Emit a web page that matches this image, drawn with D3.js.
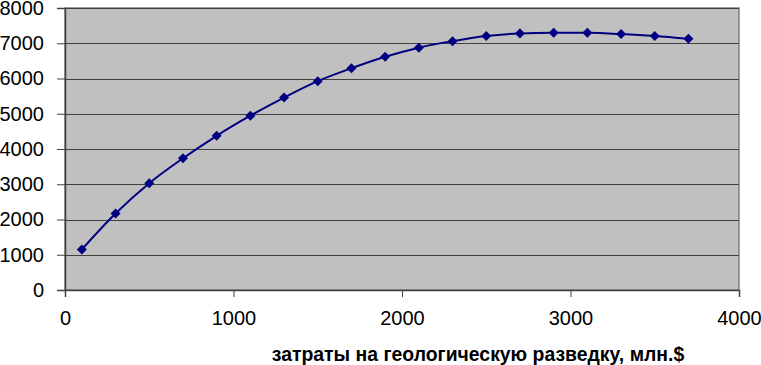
<!DOCTYPE html>
<html>
<head>
<meta charset="utf-8">
<script src="https://cdn.jsdelivr.net/npm/d3@7"></script>
<style>
  body { margin: 0; background: #fff; }
  text { font-family: "Liberation Sans", Arial, sans-serif; }
</style>
</head>
<body>
<div id="chart"></div>
<script>
// затраты (x) and result (y)
const costs = [100, 300, 500, 700, 900, 1100, 1300, 1500, 1700, 1900, 2100, 2300, 2500, 2700, 2900, 3100, 3300, 3500, 3700];
const values = [1150, 2170, 3030, 3735, 4375, 4945, 5460, 5925, 6290, 6615, 6875, 7060, 7205, 7280, 7300, 7295, 7260, 7205, 7125];
const xTicks = [0, 1000, 2000, 3000, 4000];
const yTicks = [0, 1000, 2000, 3000, 4000, 5000, 6000, 7000, 8000];
const xTitle = "затраты на геологическую разведку, млн.$";

const W = 761, H = 365;
const margin = {top: 8, right: 22, bottom: 75, left: 65};
const width = W - margin.left - margin.right;
const height = H - margin.top - margin.bottom;

const svg = d3.select("#chart").append("svg")
    .attr("width", W)
    .attr("height", H);

const g = svg.append("g")
    .attr("transform", `translate(${margin.left},${margin.top})`);

const x = d3.scaleLinear().domain([0, 4000]).range([0, width]);
const y = d3.scaleLinear().domain([0, 8000]).range([height, 0]);

// plot background
g.append("rect")
    .attr("width", width)
    .attr("height", height)
    .attr("fill", "#c0c0c0")
    .attr("stroke", "#808080")
    .attr("stroke-width", 1.5);

// gridlines
g.selectAll("line.grid")
    .data(yTicks.filter(d => d > 0))
    .enter().append("line")
    .attr("class", "grid")
    .attr("x1", 0)
    .attr("x2", width)
    .attr("y1", d => Math.round(y(d)) + 0.5)
    .attr("y2", d => Math.round(y(d)) + 0.5)
    .attr("stroke", "#404040")
    .attr("stroke-width", 1);

// axes
const fmt = d3.format("d");
const yAxis = d3.axisLeft(y).tickValues(yTicks).tickFormat(fmt).tickSize(8).tickPadding(13);
const xAxis = d3.axisBottom(x).tickValues(xTicks).tickFormat(fmt).tickSize(7).tickPadding(14);

const ya = g.append("g").attr("class", "y-axis").call(yAxis);
const xa = g.append("g").attr("class", "x-axis")
    .attr("transform", `translate(0,${height})`)
    .call(xAxis);

[ya, xa].forEach(a => {
    a.select(".domain").attr("stroke", "#404040").attr("stroke-width", 1.5);
    a.selectAll(".tick line").attr("stroke", "#404040");
    a.selectAll(".tick text")
        .attr("fill", "#000")
        .style("font-size", "20px");
});

// line
const line = d3.line()
    .x((d, i) => x(costs[i]))
    .y(d => y(d))
    .curve(d3.curveMonotoneX);

g.append("path")
    .datum(values)
    .attr("fill", "none")
    .attr("stroke", "#000080")
    .attr("stroke-width", 2)
    .attr("d", line);

// diamond markers
const diamond = d3.symbol().type(d3.symbolDiamond2).size(64);
g.selectAll("path.marker")
    .data(values)
    .enter().append("path")
    .attr("class", "marker")
    .attr("transform", (d, i) => `translate(${x(costs[i])},${y(d)})`)
    .attr("d", diamond)
    .attr("fill", "#000080");

// x axis title
svg.append("text")
    .attr("x", 478)
    .attr("y", 361)
    .attr("text-anchor", "middle")
    .style("font-size", "19.4px")
    .style("font-weight", "bold")
    .text(xTitle);
</script>
</body>
</html>
